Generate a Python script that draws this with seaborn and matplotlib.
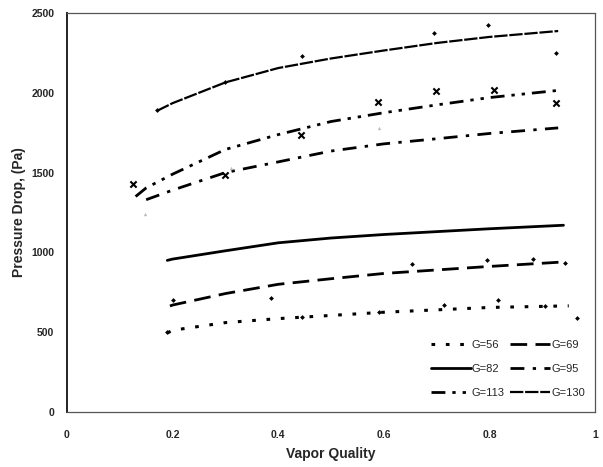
import matplotlib
matplotlib.use("Agg")
import matplotlib.pyplot as plt
import seaborn as sns
import pandas as pd

sns.set_style("white")
plt.rcParams["font.family"] = ["Liberation Sans", "DejaVu Sans"]

# Correlation curves (vapor quality vs. pressure drop) for each mass flux G
x_56 = [0.19, 0.20, 0.30, 0.40, 0.50, 0.60, 0.70, 0.80, 0.95]
y_56 = [495, 512, 560, 585, 605, 625, 640, 655, 665]

x_69 = [0.195, 0.20, 0.30, 0.40, 0.50, 0.60, 0.70, 0.80, 0.94]
y_69 = [664, 670, 742, 800, 835, 868, 890, 912, 940]

x_82 = [0.19, 0.20, 0.30, 0.40, 0.50, 0.60, 0.70, 0.80, 0.94]
y_82 = [950, 958, 1010, 1060, 1090, 1112, 1130, 1148, 1170]

x_95 = [0.15, 0.20, 0.30, 0.40, 0.50, 0.60, 0.70, 0.80, 0.93]
y_95 = [1330, 1390, 1500, 1567, 1635, 1680, 1712, 1745, 1780]

x_113 = [0.13, 0.15, 0.20, 0.30, 0.40, 0.50, 0.60, 0.70, 0.80, 0.93]
y_113 = [1350, 1404, 1490, 1645, 1738, 1820, 1875, 1924, 1970, 2015]

x_130 = [0.17, 0.20, 0.30, 0.40, 0.50, 0.60, 0.70, 0.80, 0.93]
y_130 = [1886, 1935, 2065, 2155, 2215, 2265, 2312, 2350, 2387]

# Measured points
dots_x = [0.19, 0.445, 0.59, 0.714, 0.816, 0.905, 0.966,
          0.20, 0.386, 0.653, 0.795, 0.883, 0.943,
          0.17, 0.30, 0.445, 0.695, 0.797, 0.926]
dots_y = [500, 595, 625, 670, 702, 664, 589,
          702, 714, 927, 952, 959, 934,
          1890, 2065, 2231, 2375, 2425, 2250]

cross_x = [0.125, 0.30, 0.443, 0.589, 0.699, 0.809, 0.926]
cross_y = [1428, 1485, 1736, 1940, 2011, 2018, 1936]

faint_x = [0.148, 0.31, 0.59]
faint_y = [1241, 1530, 1780]

labels = ["G=56", "G=69", "G=82", "G=95", "G=113", "G=130"]
series_x = [x_56, x_69, x_82, x_95, x_113, x_130]
series_y = [y_56, y_69, y_82, y_95, y_113, y_130]
styles = [(0, (1.2, 3.5)), (0, (6, 3)), "-", (0, (5, 3, 1.2, 3)),
          (0, (5, 2.5, 1.2, 2.5, 1.2, 2.5)), (0, (6, 0.8))]
widths = [2.2, 2.0, 2.0, 2.0, 2.0, 1.6]

fig = plt.figure(figsize=(6.03, 4.67), dpi=100)
ax = fig.add_axes([0.111, 0.1178, 0.876, 0.8544])

handles = {}
for lab, xs, ys, ls, lw in zip(labels, series_x, series_y, styles, widths):
    df = pd.DataFrame({"q": xs, "dp": ys})
    sns.lineplot(data=df, x="q", y="dp", ax=ax, color="black",
                 linestyle=ls, linewidth=lw, legend=False, sort=False)
    handles[lab] = ax.lines[-1]

sns.scatterplot(x=dots_x, y=dots_y, ax=ax, color="black", marker="D",
                s=6, linewidth=0, legend=False, zorder=3)
sns.scatterplot(x=cross_x, y=cross_y, ax=ax, color="black", marker="x",
                s=20, linewidth=1.5, legend=False, zorder=3)
sns.scatterplot(x=faint_x, y=faint_y, ax=ax, color="#bbbbbb", marker="^",
                s=6, linewidth=0, legend=False, zorder=2)

ax.set_xlim(0, 1)
ax.set_ylim(0, 2500)
ax.set_xticks([0, 0.2, 0.4, 0.6, 0.8, 1.0])
ax.set_xticklabels(["0", "0.2", "0.4", "0.6", "0.8", "1"])
ax.set_yticks([0, 500, 1000, 1500, 2000, 2500])

for side in ("top", "right", "bottom"):
    ax.spines[side].set_linestyle((0, (1, 1)))
    ax.spines[side].set_color("#555555")
    ax.spines[side].set_linewidth(0.9)
ax.spines["left"].set_color("#222222")
ax.spines["left"].set_linewidth(1.4)

ax.tick_params(axis="both", which="major", labelsize=7.5, length=3,
               width=0.8, color="#444444", direction="out")
ax.tick_params(axis="y", pad=6)
ax.tick_params(axis="x", pad=10)
for t in ax.get_xticklabels() + ax.get_yticklabels():
    t.set_fontweight("bold")

ax.set_xlabel("Vapor Quality", fontsize=10, fontweight="bold")
ax.set_ylabel("Pressure Drop, (Pa)", fontsize=10, fontweight="bold")
ax.yaxis.set_label_coords(-0.078, 0.5)
ax.xaxis.set_label_coords(0.5, -0.088)

order = ["G=56", "G=82", "G=113", "G=69", "G=95", "G=130"]
ax.legend([handles[k] for k in order], order, ncol=2, frameon=False,
          loc="lower right", bbox_to_anchor=(1.0, 0.01), fontsize=8,
          handlelength=3.6, handletextpad=0.1, columnspacing=0.5,
          labelspacing=1.25)

fig.savefig("out.png", dpi=100)
